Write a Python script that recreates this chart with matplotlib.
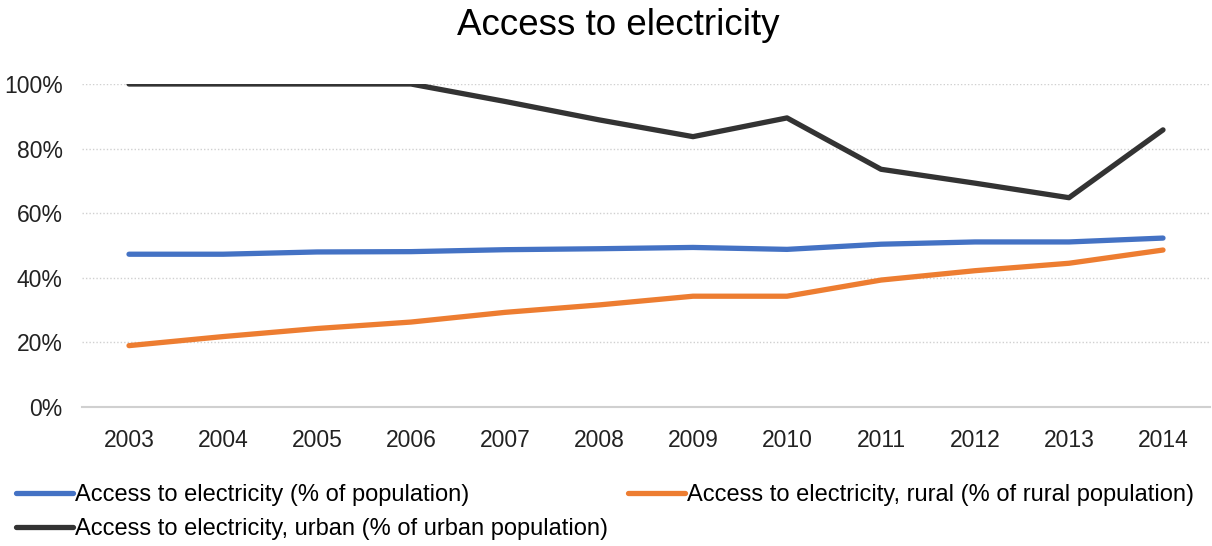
import numpy as np
import matplotlib.pyplot as plt
from matplotlib.ticker import PercentFormatter

plt.rcParams['font.family'] = ['Liberation Sans', 'DejaVu Sans']

# Datos (porcentaje)
years = [2003, 2004, 2005, 2006, 2007, 2008, 2009, 2010, 2011, 2012, 2013, 2014]
total = [47.3, 47.3, 48.0, 48.1, 48.7, 49.0, 49.4, 48.8, 50.4, 51.1, 51.1, 52.3]
rural = [19.0, 21.8, 24.3, 26.3, 29.3, 31.6, 34.3, 34.3, 39.3, 42.2, 44.5, 48.6]
urban = [100.0, 100.0, 100.0, 100.0, 94.6, 88.9, 83.7, 89.5, 73.6, 69.3, 64.8, 85.8]

labels = ['Access to electricity (% of population)',
          'Access to electricity, rural (% of rural population)',
          'Access to electricity, urban (% of urban population)']

fig = plt.figure(figsize=(12.12, 5.46), dpi=100)
ax = fig.add_axes([82/1212, 1 - 407/546, 1128/1212, 323/546])

x = np.arange(len(years))
lw = 3.8
l1, = ax.plot(x, total, color='#4472C4', lw=lw, solid_capstyle='round')
l2, = ax.plot(x, rural, color='#ED7D31', lw=lw, solid_capstyle='round')
l3, = ax.plot(x, urban, color='#333333', lw=lw, solid_capstyle='round')

ax.set_xlim(-0.5, len(years) - 0.5)
ax.set_ylim(0, 100)
ax.set_yticks(np.arange(0, 101, 20))
ax.yaxis.set_major_formatter(PercentFormatter(decimals=0))
ax.set_xticks(x)
ax.set_xticklabels([str(y) for y in years])
ax.tick_params(axis='both', length=0, labelsize=16.5, colors='#222222')
ax.tick_params(axis='x', pad=16)
ax.tick_params(axis='y', pad=14)

ax.grid(axis='y', color='#d0d0d0', linestyle=(0, (1, 1.5)), lw=1)
ax.set_axisbelow(True)
for s in ['top', 'right', 'left']:
    ax.spines[s].set_visible(False)
ax.spines['bottom'].set_color('#d0d0d0')
ax.spines['bottom'].set_linewidth(1.5)
ax.spines['bottom'].set_zorder(0)

fig.text(0.51, 0.985, 'Access to electricity', ha='center', va='top', fontsize=26.5)

fig.legend([l1, l3, l2], [labels[0], labels[2], labels[1]],
           loc='upper left', bbox_to_anchor=(16/1212, 1 - 484/546), ncol=2,
           frameon=False, fontsize=17, handlelength=2.4, handletextpad=0.1,
           columnspacing=0.85, labelspacing=0.5, borderaxespad=0, borderpad=0)

fig.savefig('out.png', dpi=100, facecolor='white')
